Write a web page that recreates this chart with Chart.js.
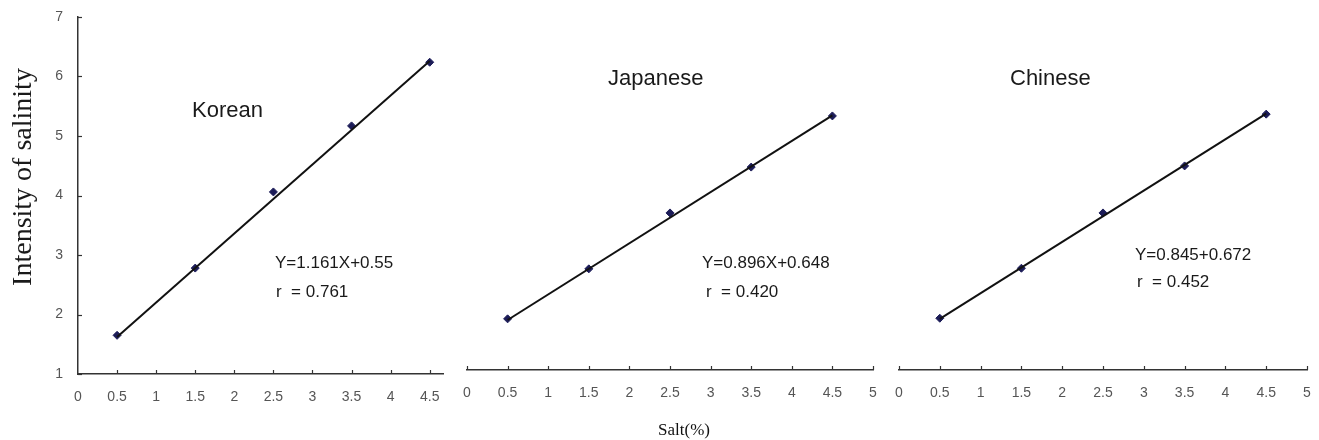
<!DOCTYPE html>
<html>
<head>
<meta charset="utf-8">
<script src="https://cdn.jsdelivr.net/npm/chart.js@4.4.1/dist/chart.umd.min.js"></script>
<style>
  html, body { margin: 0; padding: 0; background: #ffffff; }
  #wrap { position: relative; width: 1319px; height: 440px; overflow: hidden; background: #ffffff; }
  canvas { position: absolute; top: 0; }
  #xTitle { position: absolute; left: 0; width: 1368px; top: 420px; text-align: center;
            font-family: "Liberation Serif", serif; font-size: 17px; color: #111; }
</style>
</head>
<body>
<div id="wrap">
  <canvas id="pKorean" width="450" height="440" style="left:0px"></canvas>
  <canvas id="pJapanese" width="435" height="440" style="left:450px"></canvas>
  <canvas id="pChinese" width="434" height="440" style="left:885px"></canvas>
  <div id="xTitle">Salt(%)</div>
</div>
<script>
// Salt concentration (%) tested in each group
const saltLevels = [0.5, 1.5, 2.5, 3.5, 4.5];

// Mean perceived intensity of salinity
const koreanScores   = [1.65, 2.78, 4.06, 5.17, 6.24];
const japaneseScores = [1.86, 2.70, 3.64, 4.41, 5.27];
const chineseScores  = [1.87, 2.71, 3.64, 4.43, 5.30];

// Fitted trend line end points (at 0.5 % and 4.5 %)
const trendX        = [0.5, 4.5];
const koreanTrend   = [1.62, 6.26];
const japaneseTrend = [1.84, 5.28];
const chineseTrend  = [1.86, 5.31];

// Axis ranges and labels
const yMin = 1, yMax = 7, yStep = 1;
const xStep = 0.5;
const groupNames = ['Korean', 'Japanese', 'Chinese'];
const equations  = ['Y=1.161X+0.55', 'Y=0.896X+0.648', 'Y=0.845+0.672'];
const rLabels    = ['r  = 0.761', 'r  = 0.420', 'r  = 0.452'];
const yTitle = 'Intensity of salinity';

const TICK_FONT = { family: 'Liberation Sans', size: 14 };
const TICK_COLOR = '#555';
const AXIS_COLOR = '#333';

// Plain number labels: 0, 0.5, 1, 1.5 ...
function tickText(value) {
  return String(parseFloat(Number(value).toFixed(2)));
}

// Short inward tick marks and free text notes
const panelDecor = {
  id: 'panelDecor',
  afterDraw(chart, args, opts) {
    const ctx = chart.ctx;
    const area = chart.chartArea;
    ctx.save();
    ctx.strokeStyle = AXIS_COLOR;
    ctx.lineWidth = 1.2;
    const xs = chart.scales.x;
    xs.ticks.forEach(t => {
      if (opts.skipZero && t.value === 0) return;
      const px = Math.round(xs.getPixelForValue(t.value)) + 0.5;
      ctx.beginPath();
      ctx.moveTo(px, area.bottom);
      ctx.lineTo(px, area.bottom - 4);
      ctx.stroke();
    });
    const ys = chart.scales.y;
    if (ys.options.display) {
      ys.ticks.forEach(t => {
        const py = Math.round(ys.getPixelForValue(t.value)) + 0.5;
        ctx.beginPath();
        ctx.moveTo(area.left, py);
        ctx.lineTo(area.left + 4, py);
        ctx.stroke();
      });
    }
    (opts.notes || []).forEach(n => {
      ctx.save();
      ctx.font = n.font;
      ctx.fillStyle = n.color || '#1a1a1a';
      ctx.textAlign = n.align || 'left';
      ctx.textBaseline = 'middle';
      ctx.translate(n.x, n.y);
      if (n.rotate) ctx.rotate(n.rotate);
      ctx.fillText(n.text, 0, 0);
      ctx.restore();
    });
    ctx.restore();
  }
};

function toPoints(xs, ys) {
  return xs.map((x, i) => ({ x: x, y: ys[i] }));
}

function makePanel(canvasId, scores, trend, cfg) {
  const ctx = document.getElementById(canvasId).getContext('2d');
  return new Chart(ctx, {
    type: 'scatter',
    data: {
      datasets: [
        {
          label: 'trend',
          data: toPoints(trendX, trend),
          showLine: true,
          borderColor: '#111111',
          borderWidth: 2,
          pointRadius: 0,
          fill: false
        },
        {
          label: 'scores',
          data: toPoints(saltLevels, scores),
          pointStyle: 'rectRot',
          pointRadius: 4,
          backgroundColor: '#1c1c58',
          borderColor: '#1c1c58',
          borderWidth: 1
        }
      ]
    },
    options: {
      responsive: false,
      animation: false,
      events: [],
      layout: { padding: cfg.padding },
      plugins: {
        legend: { display: false },
        tooltip: { enabled: false },
        panelDecor: { skipZero: cfg.skipZero, notes: cfg.notes }
      },
      scales: {
        x: {
          type: 'linear',
          min: 0,
          max: cfg.xMax,
          grid: { display: true, drawOnChartArea: false, drawTicks: false },
          border: { display: true, color: AXIS_COLOR, width: 1.5 },
          ticks: {
            stepSize: xStep,
            includeBounds: false,
            autoSkip: false,
            maxRotation: 0,
            padding: 15,
            color: TICK_COLOR,
            font: TICK_FONT,
            callback: tickText
          },
          afterFit(scale) {
            scale.height = cfg.xHeight;
            scale.paddingLeft = 0;
            scale.paddingRight = 0;
          }
        },
        y: {
          type: 'linear',
          display: cfg.showY,
          min: yMin,
          max: yMax,
          grid: { display: true, drawOnChartArea: false, drawTicks: false },
          border: { display: true, color: AXIS_COLOR, width: 1.5 },
          ticks: {
            stepSize: yStep,
            padding: 15,
            color: TICK_COLOR,
            font: TICK_FONT,
            callback: tickText
          },
          afterFit(scale) {
            scale.width = cfg.yWidth;
            scale.paddingTop = 0;
            scale.paddingBottom = 0;
          }
        }
      }
    },
    plugins: [panelDecor]
  });
}

const TITLE_FONT = '22px "Liberation Sans"';
const EQ_FONT = '17px "Liberation Sans"';

makePanel('pKorean', koreanScores, koreanTrend, {
  padding: { top: 17, right: 7, bottom: 0, left: 0 },
  xMax: 4.67, xHeight: 66, showY: true, yWidth: 78, skipZero: true,
  notes: [
    { text: yTitle, x: 24, y: 177, rotate: -Math.PI / 2, align: 'center',
      font: '28px "Liberation Serif"', color: '#1a1a1a' },
    { text: groupNames[0], x: 192, y: 111, font: TITLE_FONT },
    { text: equations[0], x: 275, y: 263, font: EQ_FONT },
    { text: rLabels[0], x: 276, y: 292, font: EQ_FONT }
  ]
});

makePanel('pJapanese', japaneseScores, japaneseTrend, {
  padding: { top: 13, right: 12, bottom: 0, left: 17 },
  xMax: 5, xHeight: 70, showY: false, yWidth: 0, skipZero: false,
  notes: [
    { text: groupNames[1], x: 158, y: 79, font: TITLE_FONT },
    { text: equations[1], x: 252, y: 263, font: EQ_FONT },
    { text: rLabels[1], x: 256, y: 292, font: EQ_FONT }
  ]
});

makePanel('pChinese', chineseScores, chineseTrend, {
  padding: { top: 13, right: 12, bottom: 0, left: 14 },
  xMax: 5, xHeight: 70, showY: false, yWidth: 0, skipZero: false,
  notes: [
    { text: groupNames[2], x: 125, y: 79, font: TITLE_FONT },
    { text: equations[2], x: 250, y: 255, font: EQ_FONT },
    { text: rLabels[2], x: 252, y: 282, font: EQ_FONT }
  ]
});
</script>
</body>
</html>
